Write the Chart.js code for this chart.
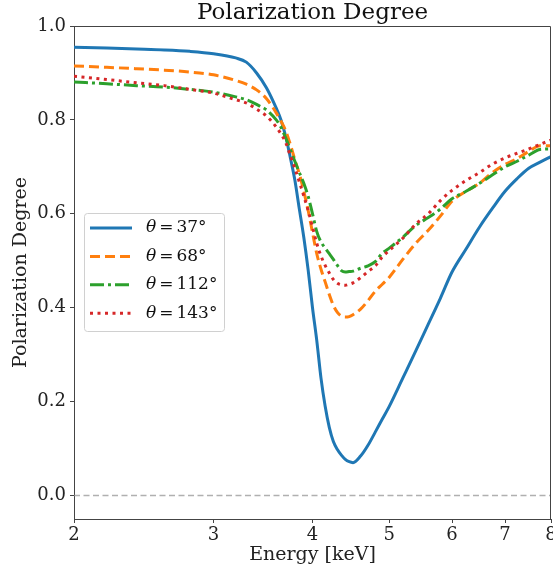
<!DOCTYPE html>
<html>
<head>
<meta charset="utf-8">
<title>Polarization Degree</title>
<script src="https://cdn.jsdelivr.net/npm/chart.js@4.4.1/dist/chart.umd.min.js"></script>
<style>
  html, body { margin: 0; padding: 0; background: #fff; }
  #wrap { width: 553px; height: 574px; position: relative; }
</style>
</head>
<body>
<div id="wrap"><canvas id="myChart"></canvas></div>
<script>
// Energy grid (keV) and polarization degree per viewing angle
const energy = [2.0, 2.2, 2.4, 2.6, 2.8, 3.0, 3.2, 3.3, 3.4, 3.5, 3.6, 3.65, 3.7, 3.75, 3.8, 3.85, 3.9, 3.95,
    4.0, 4.05, 4.1, 4.15, 4.2, 4.25, 4.3, 4.35, 4.4, 4.45, 4.5, 4.6, 4.7, 4.8, 4.9, 5.0, 5.2, 5.4, 5.6, 5.8,
    6.0, 6.25, 6.5, 6.75, 7.0, 7.25, 7.5, 7.75, 8.0];

const pol37 = [0.955, 0.953, 0.951, 0.949, 0.946, 0.941, 0.932, 0.923, 0.9, 0.868, 0.825, 0.80, 0.765, 0.72, 0.672, 0.61, 0.55, 0.48,
    0.40, 0.33, 0.25, 0.19, 0.145, 0.115, 0.098, 0.086, 0.077, 0.072, 0.07, 0.084, 0.107, 0.135, 0.163, 0.19, 0.25, 0.308, 0.365, 0.42,
    0.476, 0.525, 0.572, 0.612, 0.648, 0.675, 0.697, 0.71, 0.722];

const pol68 = [0.915, 0.912, 0.909, 0.906, 0.902, 0.896, 0.884, 0.876, 0.864, 0.845, 0.815, 0.797, 0.777, 0.748, 0.715, 0.685, 0.648, 0.607,
    0.56, 0.515, 0.482, 0.455, 0.428, 0.405, 0.39, 0.382, 0.38, 0.381, 0.385, 0.397, 0.415, 0.435, 0.45, 0.465, 0.503, 0.537, 0.565, 0.595,
    0.627, 0.648, 0.665, 0.688, 0.705, 0.718, 0.733, 0.745, 0.745];

const pol112 = [0.881, 0.877, 0.873, 0.870, 0.865, 0.859, 0.849, 0.843, 0.833, 0.821, 0.80, 0.784, 0.762, 0.737, 0.712, 0.688, 0.665, 0.637,
    0.60, 0.562, 0.54, 0.527, 0.515, 0.503, 0.49, 0.479, 0.476, 0.477, 0.478, 0.484, 0.489, 0.498, 0.516, 0.527, 0.55, 0.575, 0.592, 0.61,
    0.632, 0.648, 0.665, 0.683, 0.70, 0.712, 0.725, 0.737, 0.738];

const pol143 = [0.893, 0.886, 0.879, 0.873, 0.865, 0.857, 0.843, 0.836, 0.823, 0.808, 0.785, 0.77, 0.752, 0.724, 0.697, 0.668, 0.638, 0.607,
    0.572, 0.537, 0.51, 0.49, 0.474, 0.46, 0.452, 0.449, 0.448, 0.45, 0.453, 0.464, 0.477, 0.489, 0.508, 0.522, 0.548, 0.578, 0.6, 0.628,
    0.65, 0.671, 0.688, 0.706, 0.719, 0.729, 0.738, 0.748, 0.757];

const thetas = [37, 68, 112, 143];
const xTicks = [2, 3, 4, 5, 6, 7, 8];
const yTicks = [0.0, 0.2, 0.4, 0.6, 0.8, 1.0];
const zeroLineX = [2, 8];

const FONT = "'DejaVu Serif', serif";
Chart.defaults.font.family = FONT;
Chart.defaults.color = '#222';

const toPoints = (xs, ys) => xs.map((x, i) => ({ x: x, y: ys[i] }));

const series = [
    { theta: thetas[0], values: pol37,  color: '#1f77b4', dash: [] },
    { theta: thetas[1], values: pol68,  color: '#ff7f0e', dash: [10, 5] },
    { theta: thetas[2], values: pol112, color: '#2ca02c', dash: [14, 4, 3, 4] },
    { theta: thetas[3], values: pol143, color: '#d62728', dash: [3, 4.5] }
];

const datasets = series.map((s, i) => ({
    label: `θ = ${s.theta}°`,
    theta: s.theta,
    data: toPoints(energy, s.values),
    borderColor: s.color,
    borderDash: s.dash,
    borderWidth: 3,
    pointRadius: 0,
    fill: false,
    cubicInterpolationMode: 'monotone',
    order: series.length - i
}));

datasets.push({
    label: 'zero',
    data: zeroLineX.map(x => ({ x: x, y: 0 })),
    borderColor: 'rgba(150, 150, 150, 0.75)',
    borderDash: [6, 3.5],
    borderWidth: 1.5,
    pointRadius: 0,
    order: 10
});

// top/right spines
const frame = {
    id: 'frame',
    afterDraw(chart) {
        const { ctx, chartArea: a } = chart;
        ctx.save();
        ctx.strokeStyle = '#444';
        ctx.lineWidth = 1;
        ctx.beginPath();
        ctx.moveTo(Math.round(a.left) + 0.5, Math.round(a.top) + 0.5);
        ctx.lineTo(Math.round(a.right) - 0.5, Math.round(a.top) + 0.5);
        ctx.lineTo(Math.round(a.right) - 0.5, Math.round(a.bottom) + 0.5);
        ctx.stroke();
        ctx.restore();
    }
};

// matplotlib-style legend inside the axes
const innerLegend = {
    id: 'innerLegend',
    afterDraw(chart) {
        const { ctx, chartArea: a } = chart;
        const items = chart.data.datasets.filter(d => d.theta != null);
        const x0 = a.left + 10, y0 = a.top + 187;
        const w = 140, rowH = 28.4, h = 118;
        ctx.save();
        ctx.fillStyle = 'rgba(255,255,255,0.8)';
        ctx.strokeStyle = '#d0d0d0';
        ctx.lineWidth = 1;
        ctx.beginPath();
        ctx.roundRect(x0 + 0.5, y0 + 0.5, w, h, 3);
        ctx.fill();
        ctx.stroke();
        items.forEach((d, i) => {
            const y = y0 + 15 + i * rowH;
            ctx.strokeStyle = d.borderColor;
            ctx.lineWidth = 3;
            ctx.setLineDash(d.borderDash);
            ctx.beginPath();
            ctx.moveTo(x0 + 6, y);
            ctx.lineTo(x0 + 48, y);
            ctx.stroke();
            ctx.setLineDash([]);
            ctx.fillStyle = '#111';
            ctx.textBaseline = 'middle';
            let tx = x0 + 62;
            ctx.font = `italic 17px ${FONT}`;
            ctx.fillText('θ', tx, y);
            tx += ctx.measureText('θ').width + 3;
            ctx.font = `17px ${FONT}`;
            ctx.fillText('=', tx, y);
            tx += ctx.measureText('=').width + 3;
            ctx.fillText(`${d.theta}°`, tx, y);
        });
        ctx.restore();
    }
};

const ctx = document.getElementById('myChart').getContext('2d');

const myChart = new Chart(ctx, {
    type: 'line',
    data: { datasets: datasets },
    options: {
        responsive: true,
        maintainAspectRatio: false,
        devicePixelRatio: 1,
        animation: false,
        layout: { padding: { left: 0, right: 2, top: 0, bottom: 0 } },
        scales: {
            x: {
                type: 'logarithmic',
                min: 2,
                max: 8,
                afterBuildTicks: (scale) => { scale.ticks = xTicks.map(v => ({ value: v })); },
                afterFit: (scale) => {
                    scale.height = 55;
                    scale.paddingLeft = 0;
                    scale.paddingRight = 0;
                },
                ticks: {
                    autoSkip: false,
                    maxRotation: 0,
                    padding: 2,
                    color: '#222',
                    font: { size: 18 },
                    callback: (v) => String(v)
                },
                grid: { drawOnChartArea: false, drawTicks: true, tickLength: 4, color: '#444' },
                border: { display: true, color: '#444', width: 1 },
                title: {
                    display: true,
                    text: 'Energy [keV]',
                    color: '#222',
                    font: { size: 19 },
                    padding: { top: 0, bottom: 8 }
                }
            },
            y: {
                min: -0.05,
                max: 1.0,
                afterBuildTicks: (scale) => { scale.ticks = yTicks.map(v => ({ value: v })); },
                afterFit: (scale) => { scale.width = 74; },
                ticks: {
                    padding: 4,
                    color: '#222',
                    font: { size: 18 },
                    callback: (v) => Number(v).toFixed(1)
                },
                grid: { drawOnChartArea: false, drawTicks: true, tickLength: 4, color: '#444' },
                border: { display: true, color: '#444', width: 1 },
                title: {
                    display: true,
                    text: 'Polarization Degree',
                    color: '#222',
                    font: { size: 19 },
                    padding: { top: 10, bottom: 0 }
                }
            }
        },
        plugins: {
            legend: { display: false },
            tooltip: { enabled: false },
            title: {
                display: true,
                text: 'Polarization Degree',
                color: '#111',
                fullSize: false,
                font: { size: 23, weight: 'normal', lineHeight: 1.0 },
                padding: { top: 2, bottom: 1 }
            }
        }
    },
    plugins: [frame, innerLegend]
});
</script>
</body>
</html>
